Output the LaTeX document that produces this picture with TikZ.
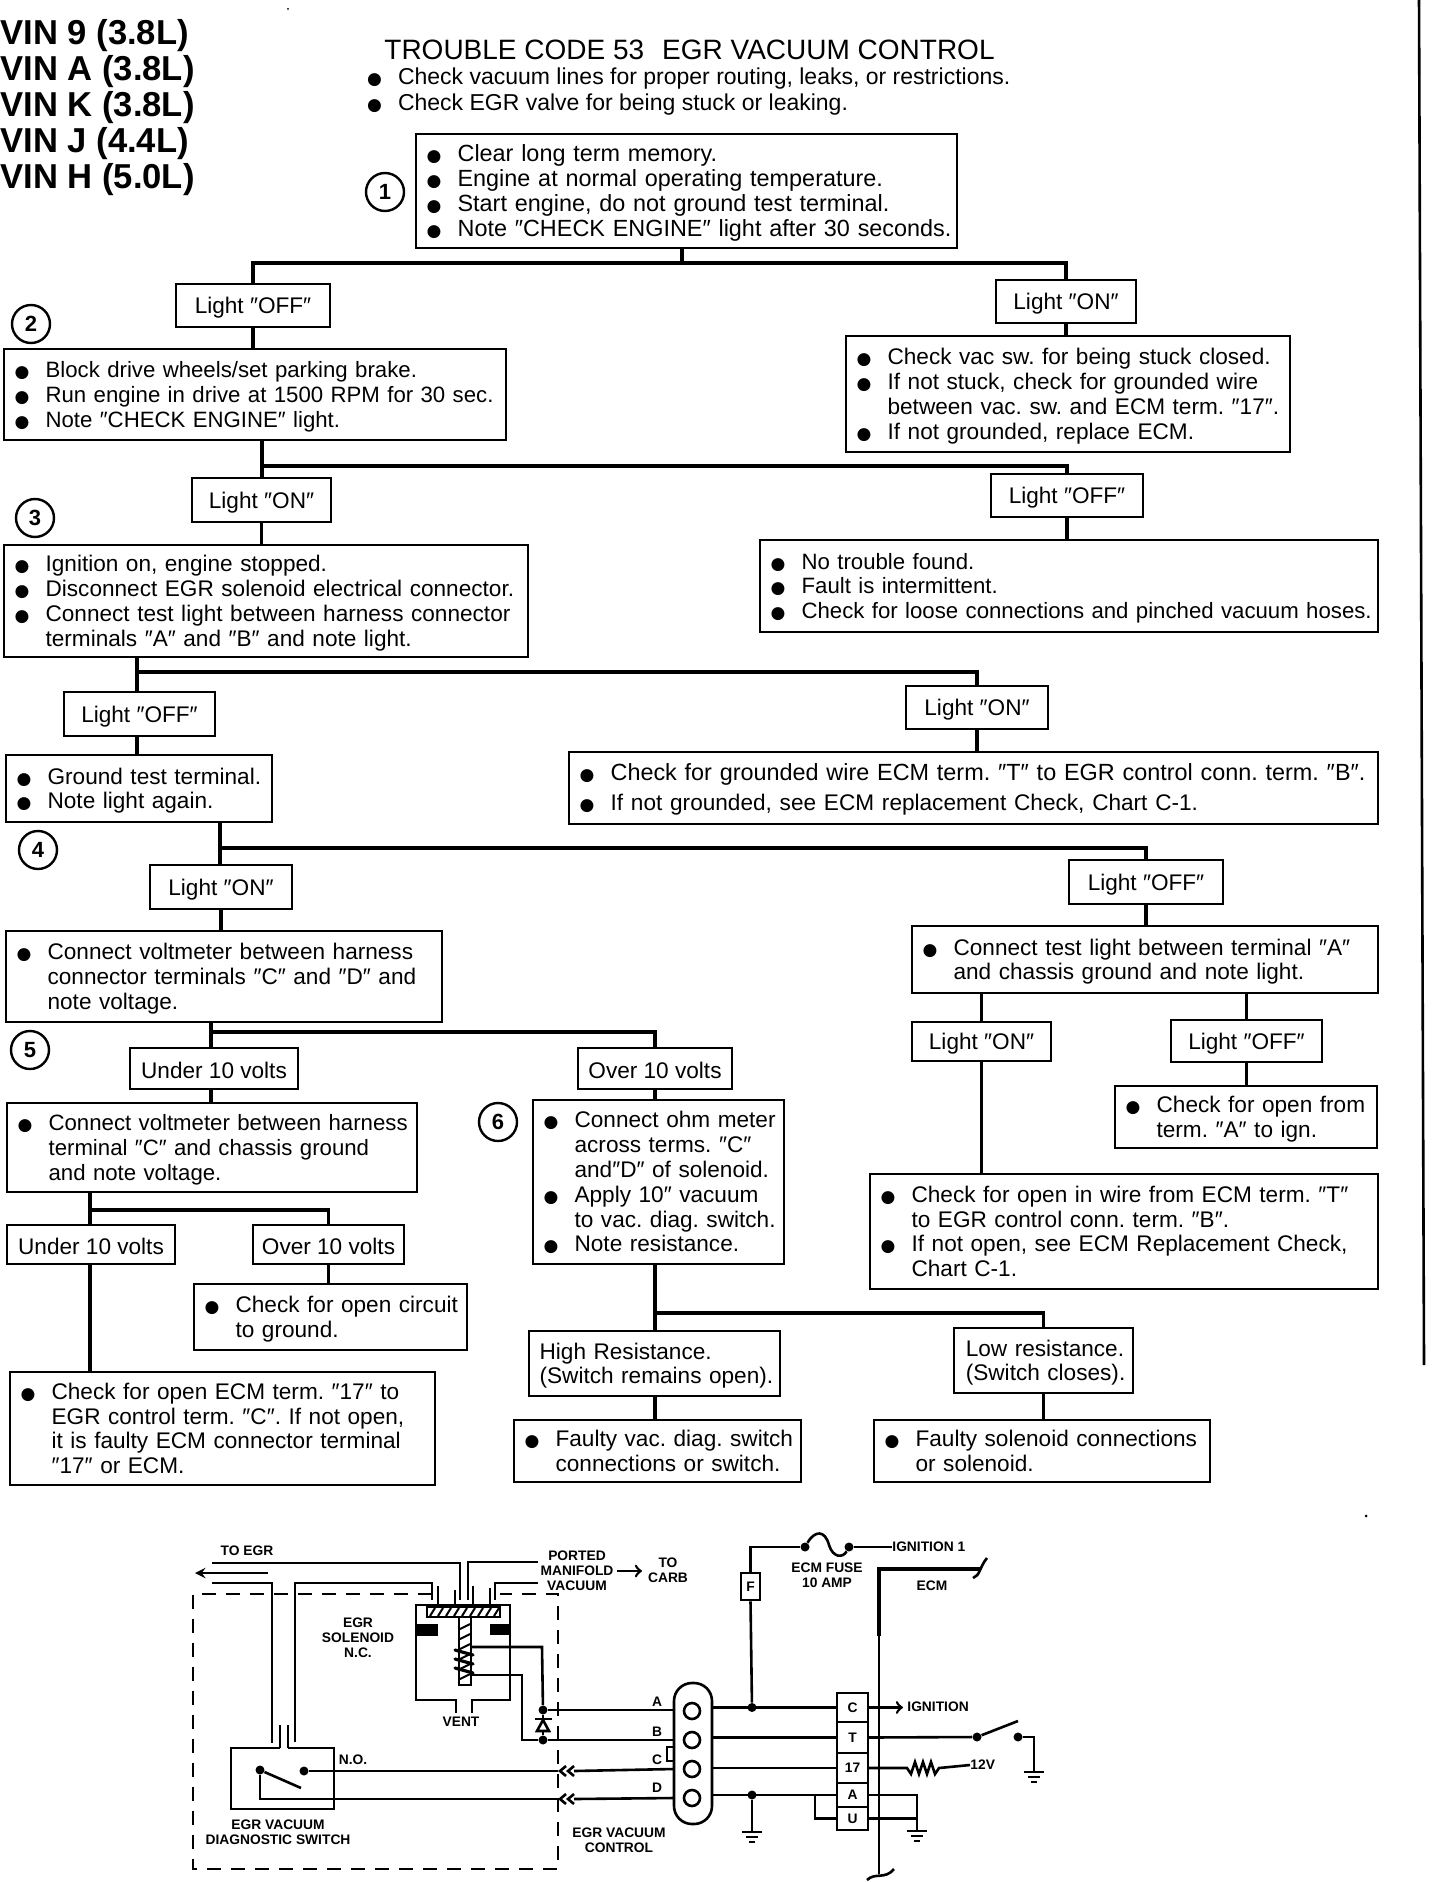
\documentclass[tikz,border=0pt]{standalone}
\usepackage{fontspec}
\setmainfont{Liberation Sans}
\newfontfamily\symfont{DejaVu Sans}
\newcommand{\bodyfont}{\fontsize{11.3}{12.4}\selectfont\frenchspacing}
\newcommand{\widefont}{\fontsize{11.7}{12.4}\selectfont\frenchspacing}
\newcommand{\tightfont}{\fontsize{11.1}{12.4}\selectfont\frenchspacing}
\newcommand{\wirefont}{\fontsize{6.9}{7.6}\selectfont\bfseries}
\newcommand{\blt}{\hspace*{4.8pt}\makebox[15.5pt][l]{\symfont\fontsize{8.5}{8}\selectfont ●}}
\newcommand{\ind}{\hspace*{20.3pt}}
\newcommand{\steptext}[1]{\begin{tabular}{@{}l@{}}\rule{0pt}{11.7pt}#1\end{tabular}}
\tikzset{
  stepbox/.style 2 args={draw, line width=1.4pt, anchor=north west, outer sep=0pt, inner sep=0pt,
    text width={#1*0.5pt-1pt}, minimum width={#1*0.5pt}, minimum height={#2*0.5pt}, font=\bodyfont},
  lightbox/.style 2 args={draw, line width=1.4pt, anchor=north west, outer sep=0pt, inner sep=0pt,
    minimum width={#1*0.5pt}, minimum height={#2*0.5pt}, align=left, font=\bodyfont, text height=10.5pt},
  numring/.style={draw, circle, line width=1.2pt, inner sep=0pt, minimum size=19pt, font=\fontsize{11}{11}\selectfont\bfseries},
  link/.style={line width=1.7pt},
  wire/.style={line width=1.3pt},
  dashbox/.style={line width=1.3pt, dash pattern=on 7pt off 5pt},
  tag/.style={font=\wirefont, align=center, inner sep=0pt},
  dot/.style={circle, fill, inner sep=0pt, minimum size=4.5pt},
  termcell/.style={draw, line width=1.3pt, minimum width=15.5pt, minimum height={#1*0.5pt}, inner sep=0pt, outer sep=0pt, font=\wirefont},
  hole/.style={draw, circle, line width=1.3pt, minimum size=8pt, inner sep=0pt},
  pics/gnd/.style={code={
    \draw[line width=1.3pt] (-10,0) -- (10,0);
    \draw[line width=1.3pt] (-6,5) -- (6,5);
    \draw[line width=1.3pt] (-3,10) -- (3,10);
  }},
}
\begin{document}
\begin{tikzpicture}[x=0.5pt,y=-0.5pt]
  \useasboundingbox (0,0) rectangle (1440,1882);
  % heading
  \node[anchor=north west, inner sep=0pt, align=left, font=\fontsize{17.3}{18}\selectfont\bfseries] (vin) at (0,19)
    {VIN 9 (3.8L)\\VIN A (3.8L)\\VIN K (3.8L)\\VIN J (4.4L)\\VIN H (5.0L)};
  \node[anchor=west, inner sep=0pt, font=\fontsize{14}{14}\selectfont] (title) at (384,50)
    {TROUBLE CODE 53\hspace{9pt}EGR VACUUM CONTROL};
  \node[anchor=north west, inner sep=0pt, align=left, font=\fontsize{11.5}{13}\selectfont\frenchspacing] (hdr) at (357,67)
    {\blt Check vacuum lines for proper routing, leaks, or restrictions.\\
     \blt Check EGR valve for being stuck or leaking.};
  % flow chart boxes
  \node[stepbox={541}{114}, font=\widefont] (s1) at (416,134)
    {\steptext{\blt Clear long term memory.\\\blt Engine at normal operating temperature.\\
     \blt Start engine, do not ground test terminal.\\\blt Note ″CHECK ENGINE″ light after 30 seconds.}};
  \node[numring] (n1) at (385,192) {1};
  \node[lightbox={154}{43}] (offa) at (176,284) {Light ″OFF″};
  \node[lightbox={140}{43}] (ona) at (996,280) {Light ″ON″};
  \node[numring] (n2) at (31,324) {2};
  \node[stepbox={502}{91}, font=\tightfont] (s2) at (4,349)
    {\steptext{\blt Block drive wheels/set parking brake.\\\blt Run engine in drive at 1500 RPM for 30 sec.\\\blt Note ″CHECK ENGINE″ light.}};
  \node[stepbox={444}{116}] (r2) at (846,336)
    {\steptext{\blt Check vac sw. for being stuck closed.\\\blt If not stuck, check for grounded wire\\
     \ind between vac. sw. and ECM term. ″17″.\\\blt If not grounded, replace ECM.}};
  \node[lightbox={139}{44}] (onb) at (192,478) {Light ″ON″};
  \node[lightbox={152}{43}] (offb) at (991,474) {Light ″OFF″};
  \node[numring] (n3) at (35,518) {3};
  \node[stepbox={524}{112}] (s3) at (4,545)
    {\steptext{\blt Ignition on, engine stopped.\\\blt Disconnect EGR solenoid electrical connector.\\
     \blt Connect test light between harness connector\\\ind terminals ″A″ and ″B″ and note light.}};
  \node[stepbox={618}{92}, font=\tightfont] (nt) at (760,540)
    {\steptext{\blt No trouble found.\\\blt Fault is intermittent.\\\blt Check for loose connections and pinched vacuum hoses.}};
  \node[lightbox={151}{44}] (offc) at (64,692) {Light ″OFF″};
  \node[lightbox={142}{43}] (onc) at (906,686) {Light ″ON″};
  \node[stepbox={266}{67}] (g) at (6,755) {\steptext{\blt Ground test terminal.\\\blt Note light again.}};
  \node[stepbox={809}{72}, font=\widefont] (gw) at (569,752)
    {\steptext{\blt Check for grounded wire ECM term. ″T″ to EGR control conn. term. ″B″.\\[2.6pt]
     \blt\bodyfont If not grounded, see ECM replacement Check, Chart C-1.}};
  \node[numring] (n4) at (38,850) {4};
  \node[lightbox={142}{44}] (ond) at (150,865) {Light ″ON″};
  \node[lightbox={154}{44}] (offd) at (1069,860) {Light ″OFF″};
  \node[stepbox={436}{91}] (volt) at (6,931)
    {\steptext{\blt Connect voltmeter between harness\\\ind connector terminals ″C″ and ″D″ and\\\ind note voltage.}};
  \node[stepbox={466}{67}] (test) at (912,926)
    {\steptext{\blt Connect test light between terminal ″A″\\\ind and chassis ground and note light.}};
  \node[numring] (n5) at (30,1050) {5};
  \node[lightbox={168}{41}] (undere) at (130,1048) {Under 10 volts};
  \node[lightbox={154}{41}] (overe) at (578,1048) {Over 10 volts};
  \node[lightbox={139}{39}] (onf) at (912,1022) {Light ″ON″};
  \node[lightbox={151}{42}] (offf) at (1171,1020) {Light ″OFF″};
  \node[stepbox={410}{89}, font=\tightfont] (v2) at (7,1103)
    {\steptext{\blt Connect voltmeter between harness\\\ind terminal ″C″ and chassis ground\\\ind and note voltage.}};
  \node[numring] (n6) at (498,1122) {6};
  \node[stepbox={251}{164}] (ohm) at (533,1100)
    {\steptext{\blt Connect ohm meter\\\ind across terms. ″C″\\\ind and″D″ of solenoid.\\
     \blt Apply 10″ vacuum\\\ind to vac. diag. switch.\\\blt Note resistance.}};
  \node[stepbox={262}{62}] (of) at (1115,1086) {\steptext{\blt Check for open from\\\ind term. ″A″ to ign.}};
  \node[lightbox={168}{39}] (underg) at (7,1225) {Under 10 volts};
  \node[lightbox={151}{39}] (overg) at (253,1225) {Over 10 volts};
  \node[stepbox={273}{66}] (circ) at (194,1284) {\steptext{\blt Check for open circuit\\\ind to ground.}};
  \node[stepbox={508}{115}] (ow) at (870,1174)
    {\steptext{\blt Check for open in wire from ECM term. ″T″\\\ind to EGR control conn. term. ″B″.\\
     \blt If not open, see ECM Replacement Check,\\\ind Chart C-1.}};
  \node[stepbox={251}{65}] (high) at (529,1331) {\steptext{\hspace*{4.8pt}High Resistance.\\\hspace*{4.8pt}(Switch remains open).}};
  \node[stepbox={179}{65}] (low) at (954,1328) {\steptext{\hspace*{5.4pt}Low resistance.\\\hspace*{5.4pt}(Switch closes).}};
  \node[stepbox={425}{113}] (ecm) at (10,1372)
    {\steptext{\blt Check for open ECM term. ″17″ to\\\ind EGR control term. ″C″. If not open,\\\ind it is faulty ECM connector terminal\\\ind ″17″ or ECM.}};
  \node[stepbox={287}{62}] (fv) at (514,1420) {\steptext{\blt Faulty vac. diag. switch\\\ind connections or switch.}};
  \node[stepbox={336}{62}] (fs) at (874,1420) {\steptext{\blt Faulty solenoid connections\\\ind or solenoid.}};
  % flow chart links
  \coordinate (j1) at (682,263);
  \coordinate (j2) at (262,466);
  \coordinate (j3) at (137,672);
  \coordinate (j4) at (220,848);
  \coordinate (j5) at (211,1032);
  \coordinate (j6) at (90,1210);
  \coordinate (j7) at (655,1313);
  \draw[link] (j1 |- s1.south) -- (j1);
  \draw[link] (offa.north) |- (j1) -| (ona.north);
  \draw[link] (offa.south) -- (offa.south |- s2.north);
  \draw[link] (ona.south) -- (ona.south |- r2.north);
  \draw[link] (j2 |- s2.south) -- (j2 |- onb.north);
  \draw[link] (j2) -| (offb.north);
  \draw[link] (onb.south) -- (onb.south |- s3.north);
  \draw[link] (offb.south) -- (offb.south |- nt.north);
  \draw[link] (j3 |- s3.south) -- (j3 |- offc.north);
  \draw[link] (j3) -| (onc.north);
  \draw[link] (j3 |- offc.south) -- (j3 |- g.north);
  \draw[link] (onc.south) -- (onc.south |- gw.north);
  \draw[link] (j4 |- g.south) -- (j4 |- ond.north);
  \draw[link] (j4) -| (offd.north);
  \draw[link] (ond.south) -- (ond.south |- volt.north);
  \draw[link] (offd.south) -- (offd.south |- test.north);
  \draw[link] (j5 |- volt.south) -- (j5 |- undere.north);
  \draw[link] (j5) -| (overe.north);
  \draw[link] (j5 |- undere.south) -- (j5 |- v2.north);
  \draw[link] (overe.south) -- (overe.south |- ohm.north);
  \draw[link] (onf.north |- test.south) -- (onf.north);
  \draw[link] (offf.north |- test.south) -- (offf.north);
  \draw[link] (onf.south) -- (onf.south |- ow.north);
  \draw[link] (offf.south) -- (offf.south |- of.north);
  \draw[link] (j6 |- v2.south) -- (j6 |- underg.north);
  \draw[link] (j6) -| (overg.north);
  \draw[link] (j6 |- underg.south) -- (j6 |- ecm.north);
  \draw[link] (overg.south) -- (overg.south |- circ.north);
  \draw[link] (j7 |- ohm.south) -- (j7 |- high.north);
  \draw[link] (j7) -| (low.north);
  \draw[link] (j7 |- high.south) -- (j7 |- fv.north);
  \draw[link] (low.south) -- (low.south |- fs.north);
  % edge of the page
  \draw[line width=1.3pt] (1419,0) -- (1424,1365);
  \fill (288,9) circle (1);
  \fill (1366,1516) circle (1.5);
  % solenoid and vacuum lines
  \node[tag] (toegr) at (247,1551) {TO EGR};
  \node[tag] (port) at (577,1571) {PORTED\\MANIFOLD\\VACUUM};
  \node[tag] (carb) at (668,1570) {TO\\CARB};
  \node[tag] (sol) at (358,1638) {EGR\\SOLENOID\\N.C.};
  \node[tag] (vent) at (461,1722) {VENT};
  \node[tag] (diag) at (278,1832) {EGR VACUUM\\DIAGNOSTIC SWITCH};
  \node[tag] (ctl) at (619,1840) {EGR VACUUM\\CONTROL};
  \node[tag] (no) at (353,1760) {N.O.};
  \draw[dashbox] (432,1594) -- (193,1594) -- (193,1869) -- (558,1869) -- (558,1594) -- (500,1594);
  \draw[wire] (212,1563) -- (460,1563) -- (460,1600);
  \draw[wire] (538,1562) -- (468,1562) -- (468,1600);
  \draw[wire,-stealth] (268,1573) -- (195,1573);
  \draw[wire] (212,1583) -- (272,1583) -- (272,1743);
  \draw[wire] (295,1742) -- (295,1583) -- (432,1583) -- (432,1600);
  \draw[wire] (538,1583) -- (495,1583) -- (495,1600);
  \draw[wire] (438,1586) -- (438,1605);
  \draw[wire] (473,1586) -- (473,1605);
  \draw[wire] (455,1590) -- (455,1605);
  \draw[wire] (490,1588) -- (490,1605);
  \draw[wire,->] (617,1571) -- (642,1571);
  \draw[wire] (456,1713) -- (456,1700) -- (416,1700) -- (416,1605) -- (510,1605) -- (510,1700) -- (472,1700) -- (472,1713);
  \draw[wire] (427,1607) rectangle (500,1617);
  \foreach \xx in {430,438,...,494} \draw[line width=1pt] (\xx,1616) -- (\xx+5,1608);
  \draw[wire] (459,1617) rectangle (471,1685);
  \foreach \yy in {1624,1634,...,1680} \draw[line width=1pt] (460,\yy+5) -- (470,\yy);
  \fill (417,1624) rectangle (438,1636);
  \fill (490,1624) rectangle (510,1635);
  \foreach \yy in {1650,1659,1668} \draw[line width=1.6pt,line cap=round] (455,\yy) -- (473,\yy+5);
  \node[dot] (da) at (543,1710) {};
  \node[dot] (db) at (543,1740) {};
  \draw[wire] (471,1647) -- (542,1647) -- (da);
  \draw[wire] (471,1675) -- (522,1675) -- (522,1740) -- (db);
  \draw[wire] (da) -- (db);
  \draw[wire] (535,1719) -- (552,1719);
  \draw[wire,fill=white] (543,1720) -- (537,1731) -- (549,1731) -- cycle;
  % diagnostic switch
  \draw[line width=1.4pt] (280,1748) -- (231,1748) -- (231,1809) -- (334,1809) -- (334,1748) -- (288,1748);
  \draw[wire] (280,1748) -- (280,1725);
  \draw[wire] (288,1748) -- (288,1725);
  \node[dot] (sa) at (260,1770) {};
  \node[dot] (sb) at (304,1771) {};
  \draw[wire] (sa) -- (301,1788);
  \draw[wire] (sa) |- (558,1799);
  \draw[wire] (sb) -- (558,1771);
  \foreach \yy in {1771,1799} {
    \draw[wire] (566,\yy-5) -- (560,\yy) -- (566,\yy+5);
    \draw[wire] (574,\yy-5) -- (568,\yy) -- (574,\yy+5);
  }
  % connector and terminals
  \node[draw, line width=1.3pt, rounded corners=9pt, minimum width=19pt, minimum height=70.5pt, inner sep=0pt, outer sep=0pt] (pill) at (693,1753.5) {};
  \node[hole] (ha) at (692,1711) {};
  \node[hole] (hb) at (692,1740) {};
  \node[hole] (hc) at (692,1769) {};
  \node[hole] (hd) at (692,1798) {};
  \node[tag] (la) at (657,1702) {A};
  \node[tag] (lb) at (657,1732) {B};
  \node[tag] (lc) at (657,1760) {C};
  \node[tag] (ld) at (657,1788) {D};
  \draw[wire] (da) -- (da -| pill.west);
  \draw[wire] (db) -- (db -| pill.west);
  \draw[wire] (574,1771) -- (pill.west |- hc);
  \draw[wire] (574,1799) -- (pill.west |- hd);
  \draw[wire] (674,1747) -- (667,1747) -- (667,1761) -- (674,1761);
  \node[termcell=29] (tc) at (852.5,1707.5) {C};
  \node[termcell=31] (tt) at (852.5,1737.5) {T};
  \node[termcell=30] (ts) at (852.5,1768) {17};
  \node[termcell=24] (ta) at (852.5,1795) {A};
  \node[termcell=23] (tu) at (852.5,1818.5) {U};
  \draw[wire] (pill.east |- tc) -- (tc.west);
  \draw[wire] (pill.east |- tt) -- (tt.west);
  \draw[wire] (pill.east |- ts) -- (ts.west);
  \draw[wire] (pill.east |- ta) -- (ta.west);
  \draw[wire] (ta.west) -- (815,1795) -- (815,1818.5) -- (tu.west);
  \node[dot] (dc) at (752,1707.5) {};
  \node[dot] (dd) at (752,1795) {};
  \draw[wire] (dd) -- (752,1832) pic {gnd};
  % fuse and ignition
  \node[draw, line width=1.3pt, minimum width=9.5pt, minimum height=13.5pt, inner sep=0pt, font=\wirefont] (fb) at (750.5,1586.5) {F};
  \node[dot] (fa) at (805,1547) {};
  \node[dot] (fz) at (849,1547) {};
  \node[tag, anchor=west] (ig1) at (892,1547) {IGNITION 1};
  \node[tag] (fuse) at (827,1575) {ECM FUSE\\10 AMP};
  \draw[wire] (dc) -- (fb.south);
  \draw[wire] (fb.north) |- (fa);
  \draw[wire] (fa) .. controls (815,1530) and (825,1530) .. (829,1545) .. controls (833,1558) and (843,1558) .. (fz);
  \draw[wire] (fz) -- (ig1.west);
  % ecm side
  \node[tag] (ecml) at (932,1586) {ECM};
  \node[tag, anchor=west] (ign) at (907,1707) {IGNITION};
  \node[tag, anchor=west] (v12) at (970,1765) {12V};
  \draw[line width=2.2pt] (980,1569) -- (879,1569) -- (879,1636);
  \draw[wire] (879,1636) -- (879,1874);
  \draw[wire] (973,1578) .. controls (980,1576) and (980,1566) .. (987,1558);
  \draw[wire] (867,1880) .. controls (875,1872) and (885,1880) .. (894,1869);
  \draw[wire,->] (tc.east) -- (903,1707.5);
  \node[dot] (sw1) at (977,1737) {};
  \node[dot] (sw2) at (1018,1737) {};
  \draw[wire] (tt.east) -- (sw1);
  \draw[wire] (sw1) -- (1018,1721);
  \draw[wire] (sw2) -- (1034,1737) -- (1034,1772) pic {gnd};
  \draw[wire] (ts.east) -- (907,1768) -- (911,1774) -- (915,1762) -- (919,1774) -- (923,1762) -- (927,1774) -- (931,1762) -- (935,1774) -- (939,1768) -- (v12.west);
  \draw[wire] (ta.east) -- (917,1795) -- (917,1831) pic {gnd};
  \draw[wire] (tu.east) -- (917,1818.5);
\end{tikzpicture}
\end{document}
